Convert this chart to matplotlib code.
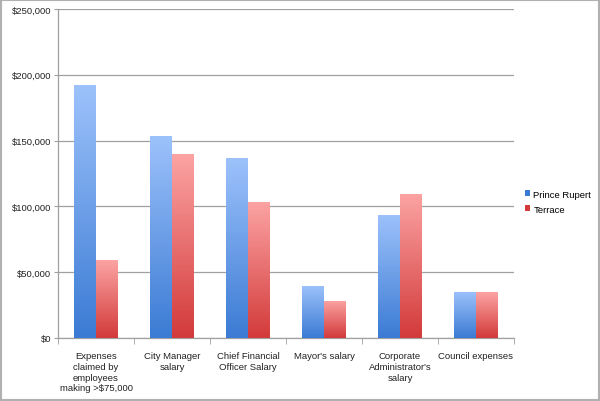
import numpy as np
import matplotlib.pyplot as plt
from matplotlib.colors import LinearSegmentedColormap
from matplotlib.patches import Rectangle
from matplotlib.ticker import FuncFormatter

plt.rcParams['font.family'] = ['Liberation Sans', 'DejaVu Sans']

categories = ['Expenses\nclaimed by\nemployees\nmaking >$75,000', 'City Manager\nsalary',
              'Chief Financial\nOfficer Salary', "Mayor's salary",
              'Corporate\nAdministrator\'s\nsalary', 'Council expenses']
prince_rupert = [192000, 153800, 136500, 39800, 93800, 35200]
terrace = [59000, 139800, 103300, 28400, 109600, 34800]
series_names = ['Prince Rupert', 'Terrace']

# gradient colours (top, bottom)
blue_grad = ('#9dc2fb', '#3b7bd4')
red_grad = ('#fca3a3', '#d33a3a')

fig = plt.figure(figsize=(6, 4.02), dpi=100)
ax = fig.add_axes([58 / 600, (402 - 339) / 402, 456 / 600, 329 / 402])

x = np.arange(len(categories))
w = 0.285


def gradient_bars(xs, vals, grad):
    cmap = LinearSegmentedColormap.from_list('g', [grad[1], grad[0]])
    grad_img = np.linspace(0, 1, 256).reshape(-1, 1)
    for xi, v in zip(xs, vals):
        rect = Rectangle((xi - w / 2, 0), w, v, facecolor='none', edgecolor='none')
        ax.add_patch(rect)
        im = ax.imshow(grad_img, cmap=cmap, origin='lower', aspect='auto',
                       extent=[xi - w / 2, xi + w / 2, 0, v], zorder=3)
        im.set_clip_path(rect)


gradient_bars(x - w / 2, prince_rupert, blue_grad)
gradient_bars(x + w / 2, terrace, red_grad)

ax.set_xlim(-0.5, len(categories) - 0.5)
ax.set_ylim(0, 250000)
ax.set_yticks(np.arange(0, 250001, 50000))
ax.yaxis.set_major_formatter(FuncFormatter(lambda v, p: '$0' if v == 0 else f'${v:,.0f}'))
ax.grid(axis='y', color='#a0a0a0', linewidth=0.9, zorder=0)
ax.set_axisbelow(True)

ax.set_xticks(x)
ax.set_xticklabels(categories, fontsize=6.8, color='#222222', linespacing=1.25)
ax.set_xticks(np.arange(-0.5, len(categories), 1), minor=True)
ax.tick_params(axis='x', which='major', length=0, pad=9.5)
ax.tick_params(axis='x', which='minor', length=4, color='#a0a0a0', direction='out')
ax.tick_params(axis='y', length=3, color='#a0a0a0', labelsize=6.8, labelcolor='#222222', pad=2)

for s in ['top', 'right']:
    ax.spines[s].set_visible(False)
for s in ['left', 'bottom']:
    ax.spines[s].set_color('#a0a0a0')
    ax.spines[s].set_linewidth(0.9)

handles = [Rectangle((0, 0), 1, 1, facecolor=blue_grad[1]),
           Rectangle((0, 0), 1, 1, facecolor=red_grad[1])]
fig.legend(handles, series_names, loc='upper left', bbox_to_anchor=(521 / 600, 1 - 187 / 402),
           frameon=False, fontsize=6.8, handlelength=0.6, handleheight=0.6,
           handletextpad=0.3, labelspacing=0.64, borderaxespad=0)

fig.patches.append(Rectangle((0.002, 0.002), 0.996, 0.996, transform=fig.transFigure,
                             fill=False, edgecolor='#b0b0b0', linewidth=1.5))

fig.savefig('out.png', dpi=100)
